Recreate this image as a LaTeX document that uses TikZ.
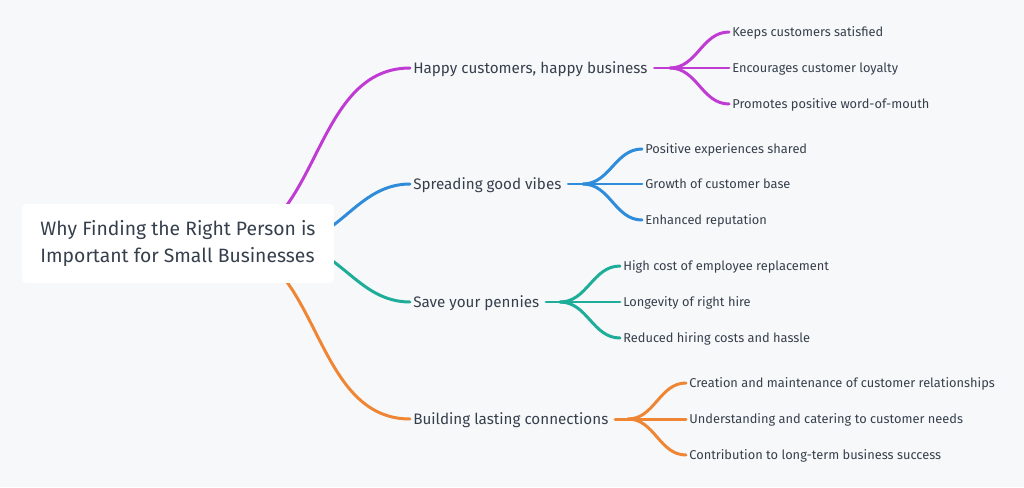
\documentclass[tikz,border=0pt]{standalone}
\usepackage{fontspec}
\setmainfont{Fira Sans}
\usetikzlibrary{backgrounds}

\definecolor{bgcol}{HTML}{F7F8FA}
\definecolor{txtcol}{HTML}{36404D}
\definecolor{magentab}{HTML}{C03BD4}
\definecolor{blueb}{HTML}{2E8CDA}
\definecolor{tealb}{HTML}{1EAD98}
\definecolor{orangeb}{HTML}{EE8635}

\begin{document}
\begin{tikzpicture}[
    x=0.02cm, y=-0.02cm,
    every node/.style={text=txtcol},
    root/.style={fill=white, rounded corners=2.3pt, minimum width=6.24cm,
        minimum height=1.58cm, inner xsep=0.3cm, align=left,
        font=\fontsize{11}{15.9}\selectfont},
    branch/.style={anchor=west, inner xsep=0.06cm, text height=5.97pt, text depth=0pt,
        font=\fontsize{8.65}{10}\selectfont},
    leaf/.style={anchor=west, inner xsep=0.06cm, text height=5.04pt, text depth=0pt,
        font=\fontsize{7.3}{9}\selectfont},
    link/.style={line width=1.7pt, line cap=round}
]
\begin{scope}[on background layer]
\fill[bgcol] (0,0) rectangle (1024,487);
\end{scope}

% root
\node[root] (root) at (178,243.5) {Why Finding the Right Person is\\Important for Small Businesses};
\coordinate (r1) at (220,243.5);
\coordinate (r2) at (285,243.5);

% branches
\node[branch] (b1) at (410,68) {Happy customers, happy business};
\node[branch] (b2) at (410,184) {Spreading good vibes};
\node[branch] (b3) at (410,302) {Save your pennies};
\node[branch] (b4) at (410,419) {Building lasting connections};

% leaves
\node[leaf] (l11) at (729,32) {Keeps customers satisfied};
\node[leaf] (l12) at (729,68) {Encourages customer loyalty};
\node[leaf] (l13) at (729,104) {Promotes positive word-of-mouth};

\node[leaf] (l21) at (642,149) {Positive experiences shared};
\node[leaf] (l22) at (642,184) {Growth of customer base};
\node[leaf] (l23) at (642,220) {Enhanced reputation};

\node[leaf] (l31) at (620,266) {High cost of employee replacement};
\node[leaf] (l32) at (620,302) {Longevity of right hire};
\node[leaf] (l33) at (620,338) {Reduced hiring costs and hassle};

\node[leaf] (l41) at (686,383) {Creation and maintenance of customer relationships};
\node[leaf] (l42) at (686,419) {Understanding and catering to customer needs};
\node[leaf] (l43) at (686,455) {Contribution to long-term business success};

% forks
\coordinate (f1) at (670,68);
\coordinate (f2) at (583,184);
\coordinate (f3) at (560,302);
\coordinate (f4) at (628,419);

% root links, behind the box
\begin{scope}[on background layer]
\draw[link, magentab] (r1) to[out=0, in=180] (b1.west);
\draw[link, blueb] (r2) to[out=0, in=180] (b2.west);
\draw[link, tealb] (r2) to[out=0, in=180] (b3.west);
\draw[link, orangeb] (r1) to[out=0, in=180] (b4.west);
\end{scope}

% leaf links
\draw[link, magentab, shorten <=2pt] (b1.east) -- (l12.west);
\draw[link, magentab] (f1) to[out=0, in=180] (l11.west);
\draw[link, magentab] (f1) to[out=0, in=180] (l13.west);

\draw[link, blueb, shorten <=2pt] (b2.east) -- (l22.west);
\draw[link, blueb] (f2) to[out=0, in=180] (l21.west);
\draw[link, blueb] (f2) to[out=0, in=180] (l23.west);

\draw[link, tealb, shorten <=2pt] (b3.east) -- (l32.west);
\draw[link, tealb] (f3) to[out=0, in=180] (l31.west);
\draw[link, tealb] (f3) to[out=0, in=180] (l33.west);

\draw[link, orangeb, shorten <=2pt] (b4.east) -- (l42.west);
\draw[link, orangeb] (f4) to[out=0, in=180] (l41.west);
\draw[link, orangeb] (f4) to[out=0, in=180] (l43.west);
\end{tikzpicture}
\end{document}
